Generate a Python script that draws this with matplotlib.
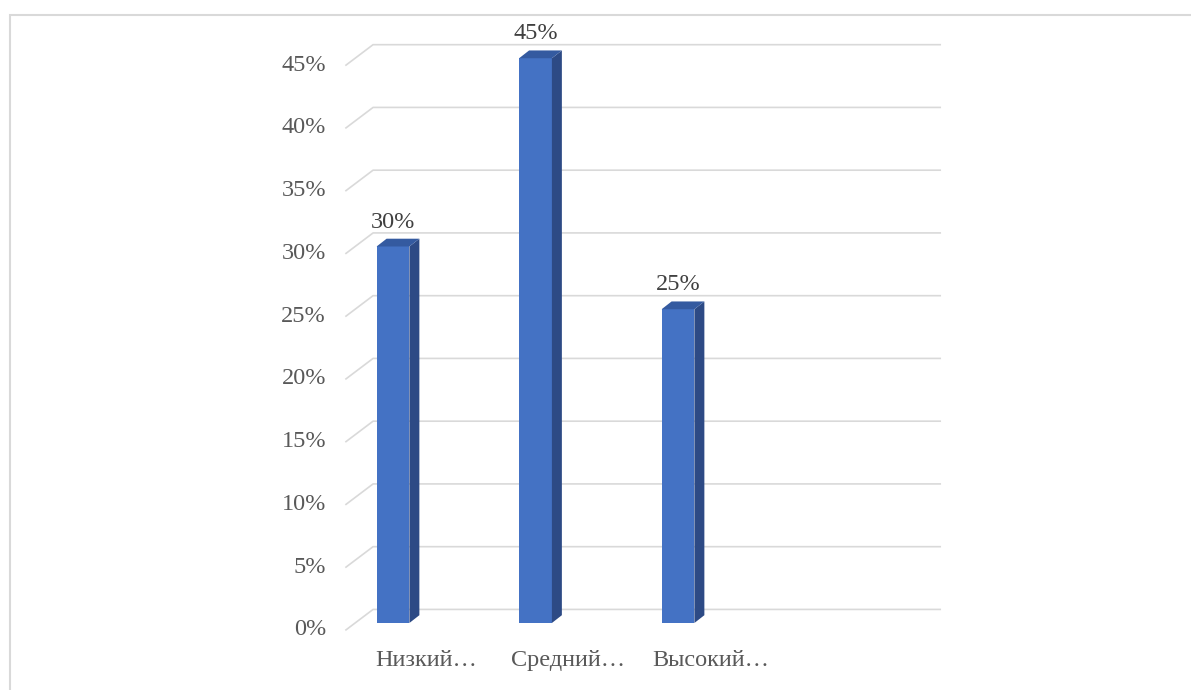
# столбчатая диаграмма в стиле Excel 3D

import matplotlib
matplotlib.use('Agg')
import matplotlib.pyplot as plt
from matplotlib.patches import Polygon, Rectangle

categories = ['Низкий…', 'Средний…', 'Высокий…']
values = [30, 45, 25]
ticks = [0, 5, 10, 15, 20, 25, 30, 35, 40, 45]
tick_labels = ['0%', '5%', '10%', '15%', '20%', '25%', '30%', '35%', '40%', '45%']

plt.rcParams['font.family'] = ['Liberation Serif', 'DejaVu Serif']

fig = plt.figure(figsize=(11.91, 6.90), dpi=100)
ax = fig.add_axes([0, 0, 1, 1])
ax.set_xlim(-2.758, 5.6)
ax.set_ylim(-5.34, 49.64)
ax.axis('off')

# рамка области диаграммы
fig.patches.append(Rectangle((9.5 / 1191, -0.1), 1.2, 1 - 14.5 / 690 + 0.1,
                             transform=fig.transFigure, fill=False,
                             edgecolor='#d9d9d9', linewidth=1.5))

# линии сетки (перспектива 3D)
dx = 0.07
dy = 0.62
for t, lab in zip(ticks, tick_labels):
    ax.plot([-0.33, -0.14, 3.84], [t - 0.55, t + 1.08, t + 1.08],
            color='#d9d9d9', linewidth=1.2, zorder=1)
    ax.text(-0.47, t - 0.55, lab, ha='right', va='center',
            fontsize=17.5, color='#595959')

w = 0.23
x = list(range(len(categories)))
ax.bar(x, values, width=w, color='#4472c4', zorder=3)
for i, v in zip(x, values):
    side = Polygon([(i + w / 2, 0), (i + w / 2 + dx, dy),
                    (i + w / 2 + dx, v + dy), (i + w / 2, v)],
                   closed=True, facecolor='#2d4a85', edgecolor='none', zorder=3)
    top = Polygon([(i - w / 2, v), (i + w / 2, v),
                   (i + w / 2 + dx, v + dy), (i - w / 2 + dx, v + dy)],
                  closed=True, facecolor='#345aa0', edgecolor='none', zorder=3)
    ax.add_patch(side)
    ax.add_patch(top)
    ax.text(i, v + 1.5, f'{v}%', ha='center', va='baseline',
            fontsize=17.5, color='#404040')

for i, c in zip(x, categories):
    ax.text(i + 0.23, -2.95, c, ha='center', va='center',
            fontsize=17.5, color='#595959')

fig.savefig('out.png', dpi=100)
